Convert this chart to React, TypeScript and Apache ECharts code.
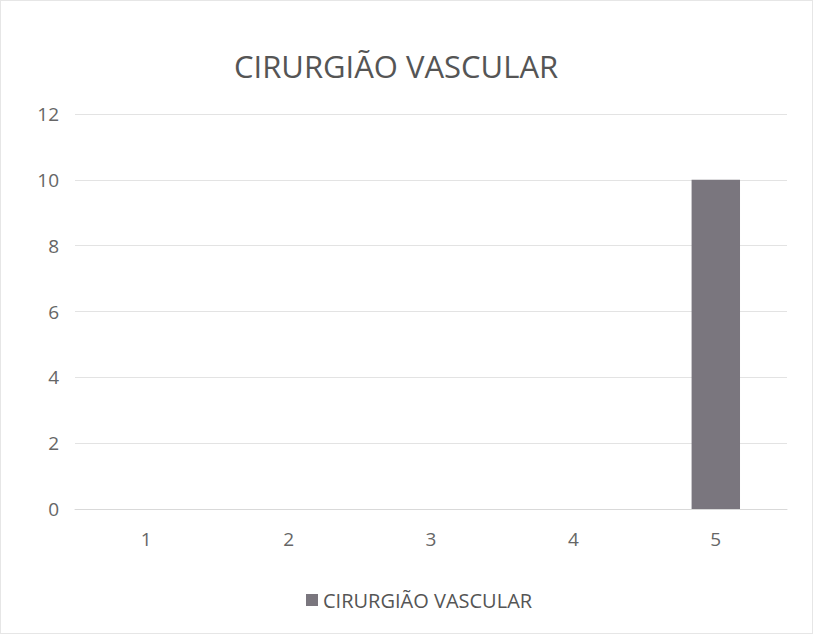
import React, { useEffect, useRef } from "react";
import * as echarts from "echarts";

const categories = ["1", "2", "3", "4", "5"];
const seriesName = "CIRURGIÃO VASCULAR";
const values = [0, 0, 0, 0, 10];
const chartTitle = "CIRURGIÃO VASCULAR";

export default function App() {
  const ref = useRef<HTMLDivElement>(null);
  useEffect(() => {
    document.body.style.margin = "0";
    const chart = echarts.init(ref.current!, null, { renderer: "svg" });
    chart.setOption({
      animation: false,
      backgroundColor: "#ffffff",
      title: {
        text: chartTitle,
        left: 228,
        top: 44,
        textStyle: { fontFamily: "Open Sans", fontSize: 31, fontWeight: "normal", color: "#555555" },
      },
      grid: { left: 74, right: 25, top: 113, bottom: 124 },
      legend: {
        top: 584,
        left: 300,
        itemWidth: 12,
        itemHeight: 12,
        icon: "rect",
        itemGap: 4,
        textStyle: { fontFamily: "Open Sans", fontSize: 20, color: "#555555" },
        data: [seriesName],
      },
      xAxis: {
        type: "category",
        data: categories,
        axisLine: { show: true, lineStyle: { color: "#d9d9d9" } },
        axisTick: { show: false },
        axisLabel: { fontFamily: "Open Sans", fontSize: 19, color: "#666666", margin: 20 },
      },
      yAxis: {
        type: "value",
        min: 0,
        max: 12,
        interval: 2,
        axisLine: { show: false },
        axisTick: { show: false },
        axisLabel: { fontFamily: "Open Sans", fontSize: 19, color: "#666666", margin: 16 },
        splitLine: { lineStyle: { color: "#e3e3e3" } },
      },
      series: [
        {
          name: seriesName,
          type: "bar",
          data: values,
          barWidth: "34%",
          itemStyle: { color: "#7a767e" },
        },
      ],
    });
    return () => chart.dispose();
  }, []);
  return (
    <div
      ref={ref}
      style={{ width: 813, height: 634, boxSizing: "border-box", border: "1px solid #e6e6e6" }}
    />
  );
}
